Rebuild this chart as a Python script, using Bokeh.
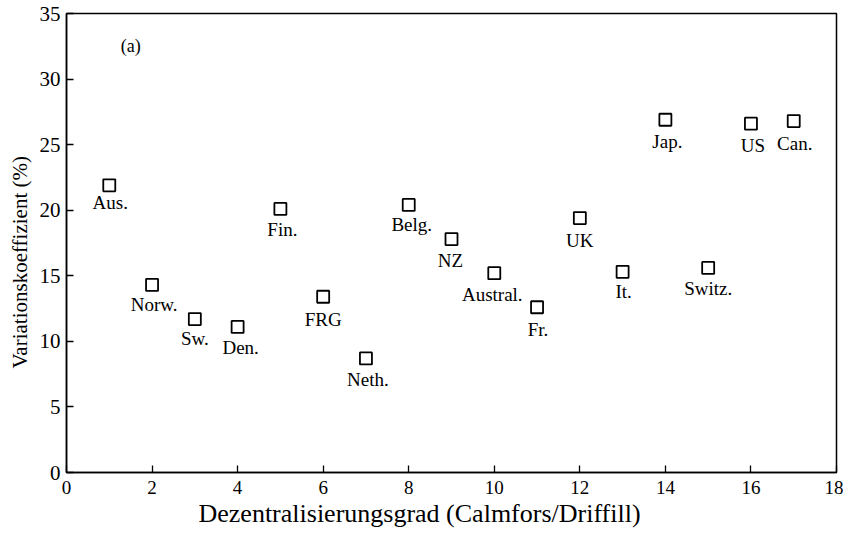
from bokeh.plotting import figure
from bokeh.models import ColumnDataSource, Range1d, Label, FixedTicker, Title
from bokeh.core.properties import value
from bokeh.embed import file_html
from bokeh.resources import INLINE

countries = ["Aus.", "Norw.", "Sw.", "Den.", "Fin.", "FRG", "Neth.", "Belg.", "NZ",
             "Austral.", "Fr.", "UK", "It.", "Jap.", "Switz.", "US", "Can."]
degree = [1, 2, 3, 4, 5, 6, 7, 8, 9, 10, 11, 12, 13, 14, 15, 16, 17]
variation = [21.9, 14.3, 11.7, 11.1, 20.1, 13.4, 8.7, 20.4, 17.8,
             15.2, 12.6, 19.4, 15.3, 26.9, 15.6, 26.6, 26.8]

x_title = "Dezentralisierungsgrad (Calmfors/Driffill)"
y_title = "Variationskoeffizient (%)"

# label placement offsets (screen px, label centre relative to marker centre)
label_dx = [1, 2, 0, 3, 2, 0, 2, 3, -1, -2, 1, 0, 1, 2, 0, 2, 1]
label_dy = [17, 20, 19, 21, 21, 23, 21, 20, 21, 21, 22, 22, 20, 22, 21, 22, 22]

FONT = "Liberation Serif"

p = figure(width=843, height=532, output_backend="svg", toolbar_location=None,
           x_range=Range1d(0, 18), y_range=Range1d(0, 35),
           min_border_left=66, min_border_right=7, min_border_top=13, min_border_bottom=60)
p.background_fill_color = "white"
p.border_fill_color = "white"
p.grid.visible = False
p.outline_line_color = "black"
p.outline_line_width = 1.5

src = ColumnDataSource(dict(x=degree, y=variation, label=countries, dx=label_dx, dy=label_dy))
p.scatter("x", "y", source=src, marker="square", size=12, fill_color="white",
          line_color="black", line_width=1.8)
p.text("x", "y", text="label", source=src, x_offset="dx", y_offset="dy",
       text_align="center", text_baseline="middle", text_font=value(FONT),
       text_font_size="19px", text_color="black")

p.add_layout(Label(x=1.5, y=32.5, text="(a)", text_font=FONT, text_font_size="18px",
                   text_align="center", text_baseline="middle", text_color="black"))

p.xaxis.ticker = FixedTicker(ticks=list(range(0, 19, 2)))
p.yaxis.ticker = FixedTicker(ticks=list(range(0, 36, 5)))
for ax in (p.xaxis, p.yaxis):
    ax.axis_line_color = "black"
    ax.axis_line_width = 1.5
    ax.major_tick_in = 7
    ax.major_tick_out = 0
    ax.major_tick_line_color = "black"
    ax.major_tick_line_width = 1.3
    ax.minor_tick_line_color = None
    ax.major_label_text_font = FONT
    ax.major_label_text_color = "black"

p.xaxis.major_label_text_font_size = "19px"
p.yaxis.major_label_text_font_size = "21px"
p.xaxis.major_label_standoff = 8
p.yaxis.major_label_standoff = 6

# axis titles as side titles (positioned as in the original)
p.add_layout(Title(text=x_title, align="left", offset=132, standoff=0,
                   text_font=FONT, text_font_size="26px", text_font_style="normal",
                   text_color="black"), "below")
p.add_layout(Title(text=y_title, align="left", offset=104, standoff=9,
                   text_font=FONT, text_font_size="21px", text_font_style="normal",
                   text_color="black"), "left")

open("out.html", "w").write(file_html(p, INLINE))
